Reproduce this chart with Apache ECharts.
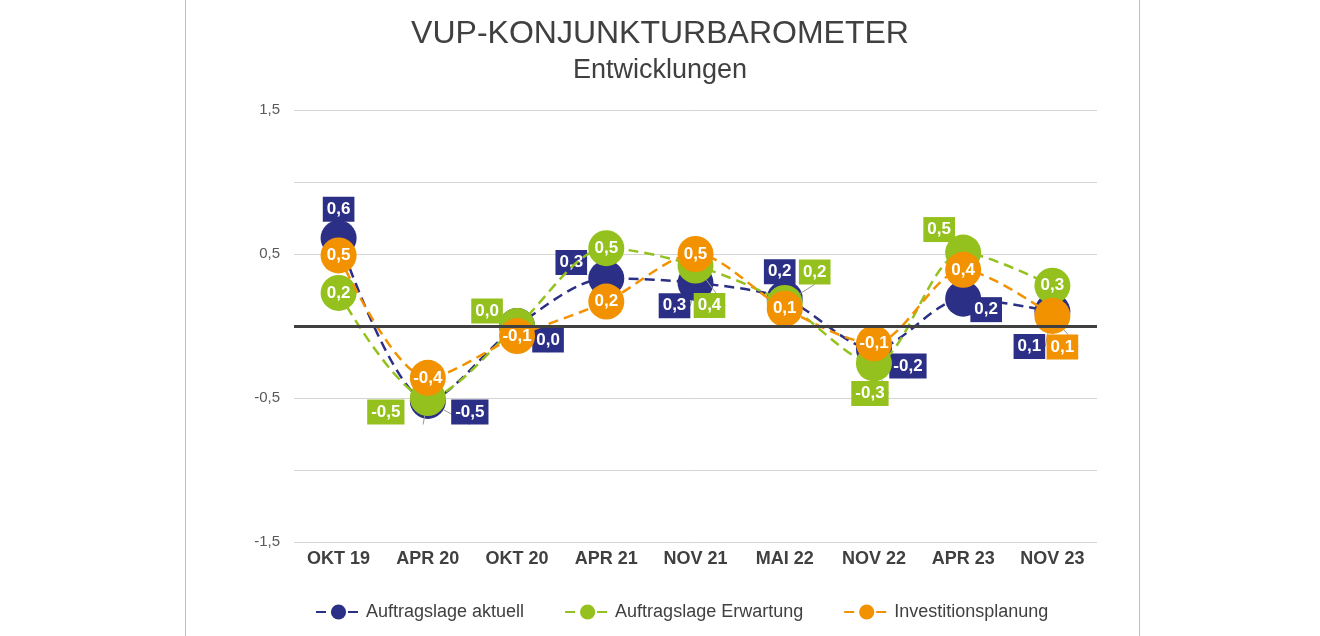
<!DOCTYPE html>
<html>
<head>
<meta charset="utf-8">
<script src="https://cdn.jsdelivr.net/npm/echarts@6/dist/echarts.min.js"></script>
<style>
  html, body { margin: 0; padding: 0; background: #fff; }
  #main { width: 1320px; height: 636px; }
</style>
</head>
<body>
<div id="main"></div>
<script>
// Stichtage
const categories = ['OKT 19', 'APR 20', 'OKT 20', 'APR 21', 'NOV 21', 'MAI 22', 'NOV 22', 'APR 23', 'NOV 23'];

// Werte (aus dem Bild geschaetzt)
const auftragAktuell = [0.61, -0.52, 0.0, 0.33, 0.3, 0.19, -0.16, 0.19, 0.1];
const auftragErwartung = [0.23, -0.5, 0.0, 0.54, 0.42, 0.16, -0.26, 0.51, 0.28];
const investition = [0.49, -0.36, -0.07, 0.17, 0.5, 0.12, -0.12, 0.39, 0.07];

// Y-Achse
const yMin = -1.5, yMax = 1.5, yStep = 0.5;

// Beschriftungen: null = im Kreis, sonst Versatz der Box
const offsAktuell = [[0, -29], [42, 11], [31, 14], [-35, -16], [-21, 23], [-5, -27], [34, 17], [23, 11], [-23, 35]];
const offsErwartung = [null, [-42, 14], [-30, -15], null, [14, 40], [30, -31], [-4, 30], [-24, -23], null];
const offsInvest = [null, null, null, null, null, null, null, null, [10, 31]];

const BLUE = '#2c2f86';
const GREEN = '#95c11f';
const ORANGE = '#f39200';

function fmt(v) {
  let s = (Math.round(v * 10) / 10).toFixed(1);
  if (s === '-0.0') s = '0.0';
  return s.replace('.', ',');
}

function buildData(values, offsets, color) {
  return values.map((v, i) => {
    const off = offsets[i];
    if (!off) {
      return { value: v };
    }
    return {
      value: v,
      label: {
        offset: off,
        backgroundColor: color,
        padding: [5, 4, 3, 4]
      },
      labelLine: {
        show: true,
        lineStyle: { color: '#9a9a9a', width: 1 }
      }
    };
  });
}

function makeSeries(name, values, offsets, color, z) {
  return {
    name: name,
    type: 'line',
    z: z,
    data: buildData(values, offsets, color),
    smooth: 0.3,
    symbol: 'circle',
    symbolSize: 36,
    showAllSymbol: true,
    lineStyle: { color: color, width: 2.5, type: [10, 6] },
    itemStyle: { color: color, opacity: 1 },
    label: {
      show: true,
      position: 'inside',
      color: '#fff',
      fontFamily: 'Liberation Sans, Arial, sans-serif',
      fontWeight: 'bold',
      fontSize: 17,
      formatter: p => fmt(p.value)
    },
    emphasis: { disabled: true }
  };
}

const chart = echarts.init(document.getElementById('main'));

chart.setOption({
  backgroundColor: '#fff',
  animation: false,
  textStyle: { fontFamily: 'Liberation Sans, Arial, sans-serif' },
  title: {
    text: 'VUP-KONJUNKTURBAROMETER',
    subtext: 'Entwicklungen',
    left: 'center',
    top: 13,
    itemGap: 7,
    textStyle: { fontSize: 32, fontWeight: 'normal', color: '#404040' },
    subtextStyle: { fontSize: 27, color: '#404040' }
  },
  graphic: [
    { type: 'line', shape: { x1: 185.5, y1: 0, x2: 185.5, y2: 636 }, style: { stroke: '#c0c0c0', lineWidth: 1 } },
    { type: 'line', shape: { x1: 1139.5, y1: 0, x2: 1139.5, y2: 636 }, style: { stroke: '#c0c0c0', lineWidth: 1 } }
  ],
  legend: {
    bottom: 10,
    left: 310,
    data: ['Auftragslage aktuell', 'Auftragslage Erwartung', 'Investitionsplanung'],
    itemWidth: 45,
    itemHeight: 19,
    itemGap: 40,
    textStyle: { fontSize: 18, color: '#404040' }
  },
  grid: { left: 294, right: 223, top: 110, bottom: 94 },
  xAxis: {
    type: 'category',
    data: categories,
    boundaryGap: true,
    axisLine: { show: false },
    axisTick: { show: false },
    axisLabel: { color: '#404040', fontWeight: 'bold', fontSize: 18, margin: 8 }
  },
  yAxis: {
    type: 'value',
    min: yMin,
    max: yMax,
    interval: yStep,
    axisLine: { show: false },
    axisTick: { show: false },
    splitLine: { lineStyle: { color: '#d4d4d4', width: 1 } },
    axisLabel: {
      color: '#595959',
      fontSize: 15,
      margin: 14,
      formatter: v => (Math.abs(Math.abs(v % 1) - 0.5) < 1e-6 ? fmt(v) : '')
    }
  },
  series: [
    {
      name: 'Nulllinie',
      type: 'line',
      z: 1,
      data: [],
      silent: true,
      markLine: {
        silent: true,
        symbol: 'none',
        label: { show: false },
        lineStyle: { color: '#404040', width: 3, type: 'solid' },
        data: [{ yAxis: 0 }]
      }
    },
    makeSeries('Auftragslage aktuell', auftragAktuell, offsAktuell, BLUE, 2),
    makeSeries('Auftragslage Erwartung', auftragErwartung, offsErwartung, GREEN, 3),
    makeSeries('Investitionsplanung', investition, offsInvest, ORANGE, 4)
  ]
});
</script>
</body>
</html>
